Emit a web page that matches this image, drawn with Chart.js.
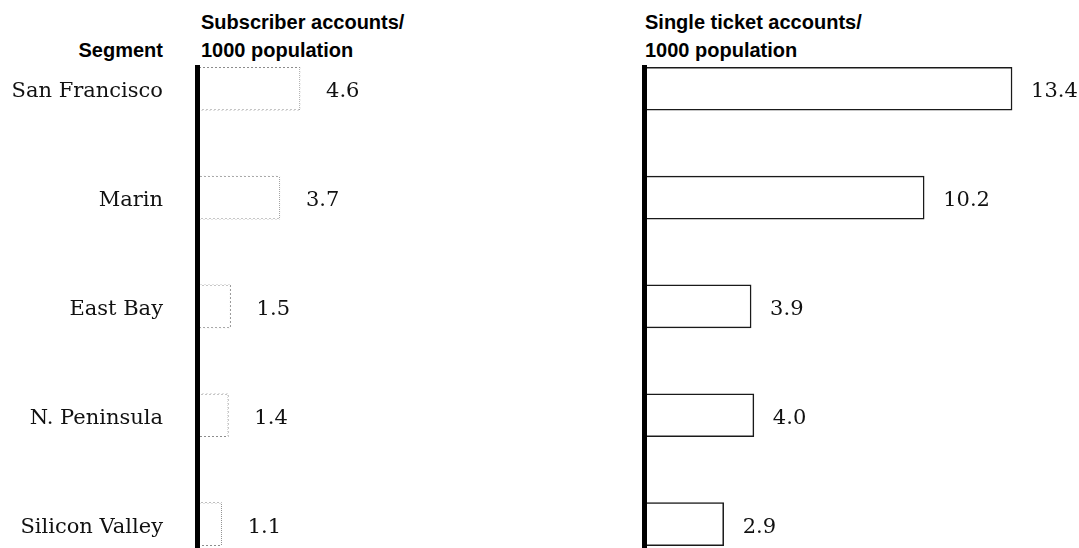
<!DOCTYPE html>
<html>
<head>
<meta charset="utf-8">
<title>Accounts per 1000 population by segment</title>
<script src="https://cdn.jsdelivr.net/npm/chart.js@4.4.1/dist/chart.umd.min.js"></script>
<style>
    body {
        margin: 0;
        width: 1079px;
        height: 548px;
        position: relative;
        overflow: hidden;
        background: #ffffff;
    }

    .panel {
        position: absolute;
        top: 0;
        height: 548px;
    }

    .head {
        position: absolute;
        font: bold 20px "Liberation Sans", Arial, sans-serif;
        line-height: 28px;
        color: #000000;
        white-space: nowrap;
    }
</style>
</head>
<body>

<div class="head" id="segmentHead" style="right: 916px; top: 36px;"></div>
<div class="head" id="subscriberHead" style="left: 201px; top: 8px;"></div>
<div class="head" id="singleHead" style="left: 645px; top: 8px;"></div>

<div class="panel" style="left: 0; width: 600px;">
    <canvas id="subscriberChart"></canvas>
</div>

<div class="panel" style="left: 600px; width: 479px;">
    <canvas id="singleChart"></canvas>
</div>

<script>

// ======================================
// Data
// ======================================

const segments = [
    "San Francisco",
    "Marin",
    "East Bay",
    "N. Peninsula",
    "Silicon Valley"
];

const subscriberAccounts = [4.6, 3.7, 1.5, 1.4, 1.1];

const singleTicketAccounts = [13.4, 10.2, 3.9, 4.0, 2.9];

const segmentTitle = "Segment";
const subscriberTitle = ["Subscriber accounts/", "1000 population"];
const singleTitle = ["Single ticket accounts/", "1000 population"];

document.getElementById("segmentHead").textContent = segmentTitle;
document.getElementById("subscriberHead").innerHTML = subscriberTitle.join("<br>");
document.getElementById("singleHead").innerHTML = singleTitle.join("<br>");

const serifFont = "'DejaVu Serif', 'Liberation Serif', serif";

// ======================================
// Dotted grey outline for the faint bars
// ======================================

function dottedPattern(color) {

    const tile = document.createElement("canvas");
    tile.width = 4;
    tile.height = 4;

    const t = tile.getContext("2d");
    t.fillStyle = color;

    // two dots per row, shifted each row
    [[0, 0], [1, 0], [2, 1], [3, 1], [1, 2], [2, 2], [3, 3], [0, 3]]
        .forEach(([x, y]) => t.fillRect(x, y, 1, 1));

    return t.createPattern(tile, "repeat");
}

// ======================================
// Value labels at the end of each bar
// ======================================

const valueLabels = {

    id: "valueLabels",

    afterDatasetsDraw(chart, args, opts) {

        const ctx = chart.ctx;
        const meta = chart.getDatasetMeta(0);
        const data = chart.data.datasets[0].data;

        ctx.save();
        ctx.font = "21px " + serifFont;
        ctx.fillStyle = "#111111";
        ctx.textBaseline = "middle";
        ctx.textAlign = "left";

        meta.data.forEach((bar, i) => {
            ctx.fillText(data[i].x.toFixed(1), bar.x + opts.gap, bar.y + 3);
        });

        ctx.restore();
    }
};

// ======================================
// Reusable Panel Factory
// ======================================

function createPanel(canvasId, values, cfg) {

    const ctx = document
        .getElementById(canvasId)
        .getContext("2d");

    return new Chart(ctx, {

        type: "bar",

        data: {

            datasets: [{

                data: values.map((v, i) => ({ x: v, y: i })),

                backgroundColor: "#ffffff",

                borderColor: cfg.borderColor,

                borderWidth: cfg.borderWidth,

                barThickness: 43,

                clip: false

            }]
        },

        options: {

            indexAxis: "y",

            responsive: true,

            maintainAspectRatio: false,

            animation: false,

            layout: {

                padding: { top: 67, right: cfg.padRight, bottom: 0, left: 0 }

            },

            plugins: {

                legend: { display: false },

                tooltip: { enabled: false },

                valueLabels: { gap: cfg.labelGap }

            },

            scales: {

                x: {

                    type: "linear",

                    display: false,

                    min: 0,

                    max: cfg.xMax

                },

                y: {

                    type: "linear",

                    reverse: true,

                    offset: false,

                    min: -0.2,

                    max: 4.22,

                    afterBuildTicks: (axis) => {
                        axis.ticks = segments.map((s, i) => ({ value: i }));
                    },

                    afterFit: (axis) => {
                        axis.width = cfg.axisWidth;
                        axis.paddingTop = 0;
                        axis.paddingBottom = 0;
                    },

                    grid: {

                        offset: false,

                        drawOnChartArea: false,

                        drawTicks: false

                    },

                    // heavy axis line, drawn over the bar ends
                    border: {

                        display: true,

                        color: "#000000",

                        width: 5,

                        z: 1

                    },

                    ticks: {

                        display: cfg.showLabels,

                        autoSkip: false,

                        padding: 34,

                        labelOffset: 3,

                        color: "#111111",

                        font: { family: serifFont, size: 21 },

                        callback: (v) => segments[v]

                    }

                }

            }

        },

        plugins: [valueLabels]

    });

}

// ======================================
// Create Panels
// ======================================

const subscriberChart = createPanel("subscriberChart", subscriberAccounts, {
    axisWidth: 197,
    xMax: 10,
    padRight: 179,
    showLabels: true,
    borderColor: dottedPattern("#8c8c8c"),
    borderWidth: 1,
    labelGap: 26
});

const singleChart = createPanel("singleChart", singleTicketAccounts, {
    axisWidth: 44,
    xMax: 15,
    padRight: 23,
    showLabels: false,
    borderColor: "#1a1a1a",
    borderWidth: 1.5,
    labelGap: 19
});

</script>
</body>
</html>
